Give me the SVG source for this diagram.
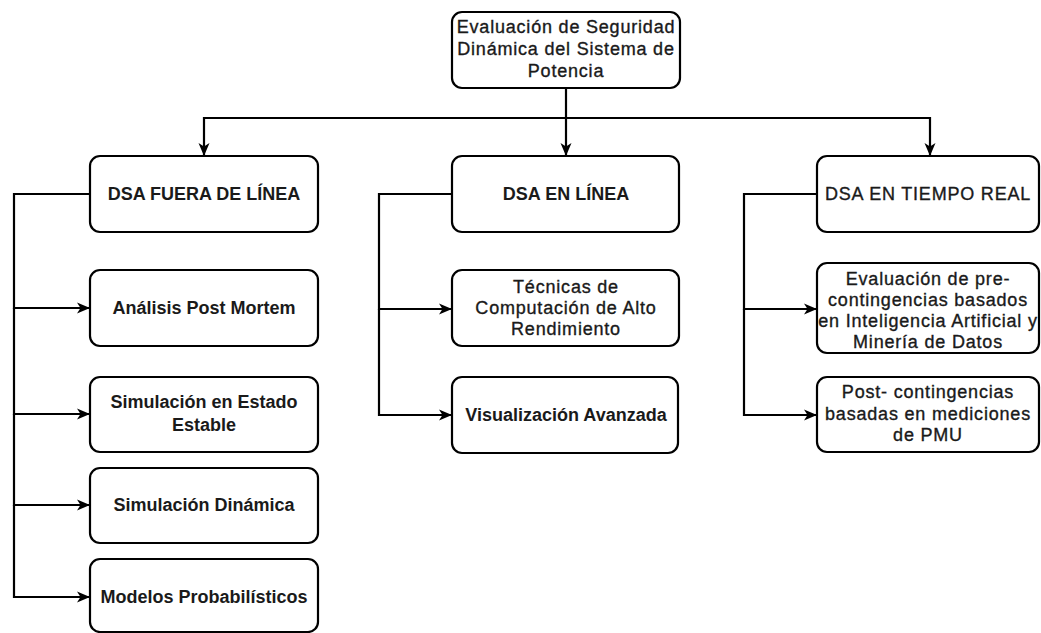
<svg xmlns="http://www.w3.org/2000/svg" width="1041" height="633" viewBox="0 0 1041 633">
<style>
.box{fill:#fff;stroke:#000;stroke-width:2.2}
.t{font-family:"Liberation Sans",Arial,sans-serif;font-size:18px;fill:#1a1a1a;stroke:#1a1a1a;stroke-width:0.35;text-anchor:middle;letter-spacing:0.8px}
.b{font-weight:bold;letter-spacing:0;stroke-width:0}
.c{fill:none;stroke:#000;stroke-width:2.2}
</style>
<defs>
<marker id="ah" markerUnits="userSpaceOnUse" markerWidth="14" markerHeight="12" refX="13" refY="6" orient="auto">
<path d="M0,0.5 L13,6 L0,11.5 L3.5,6 z" fill="#000"/>
</marker>
</defs>
<rect width="1041" height="633" fill="#fff"/>
<g id="connectors">
<path class="c" d="M566,88 V156" marker-end="url(#ah)"/>
<path class="c" d="M566,118 H204 V156" marker-end="url(#ah)"/>
<path class="c" d="M566,118 H930 V156" marker-end="url(#ah)"/>
<path class="c" d="M90,194 H14 V308 H90" marker-end="url(#ah)"/>
<path class="c" d="M14,308 V414 H90" marker-end="url(#ah)"/>
<path class="c" d="M14,414 V505 H90" marker-end="url(#ah)"/>
<path class="c" d="M14,505 V597 H90" marker-end="url(#ah)"/>
<path class="c" d="M452,194 H379 V309 H452" marker-end="url(#ah)"/>
<path class="c" d="M379,309 V415 H452" marker-end="url(#ah)"/>
<path class="c" d="M817,194 H744 V309 H817" marker-end="url(#ah)"/>
<path class="c" d="M744,309 V415 H817" marker-end="url(#ah)"/>
</g>
<g id="root">
<rect class="box" x="452" y="12" width="228" height="76" rx="10"/>
<text class="t" x="566" y="33">Evaluación de Seguridad</text>
<text class="t" x="566" y="55">Dinámica del Sistema de</text>
<text class="t" x="566" y="77">Potencia</text>
</g>
<g id="offline">
<rect class="box" x="90" y="156" width="228" height="76" rx="10"/>
<text class="t b" x="204" y="200">DSA FUERA DE LÍNEA</text>
</g>
<g id="online">
<rect class="box" x="452" y="156" width="227" height="76" rx="10"/>
<text class="t b" x="566" y="200">DSA EN LÍNEA</text>
</g>
<g id="realtime">
<rect class="box" x="817" y="156" width="222" height="76" rx="10"/>
<text class="t" x="928" y="200">DSA EN TIEMPO REAL</text>
</g>
<g id="postmortem">
<rect class="box" x="90" y="270" width="228" height="76" rx="10"/>
<text class="t b" x="204" y="314">Análisis Post Mortem</text>
</g>
<g id="steady">
<rect class="box" x="90" y="377" width="228" height="75" rx="10"/>
<text class="t b" x="204" y="408">Simulación en Estado</text>
<text class="t b" x="204" y="431">Estable</text>
</g>
<g id="dynamic">
<rect class="box" x="90" y="468" width="228" height="75" rx="10"/>
<text class="t b" x="204" y="511">Simulación Dinámica</text>
</g>
<g id="probabilistic">
<rect class="box" x="90" y="559" width="228" height="73" rx="10"/>
<text class="t b" x="204" y="603">Modelos Probabilísticos</text>
</g>
<g id="hpc">
<rect class="box" x="452" y="270" width="227" height="76" rx="10"/>
<text class="t" x="566" y="293">Técnicas de</text>
<text class="t" x="566" y="314">Computación de Alto</text>
<text class="t" x="566" y="335">Rendimiento</text>
</g>
<g id="visual">
<rect class="box" x="452" y="377" width="226" height="76" rx="10"/>
<text class="t b" x="566" y="421">Visualización Avanzada</text>
</g>
<g id="precont">
<rect class="box" x="817" y="263" width="222" height="90" rx="10"/>
<text class="t" x="928" y="285">Evaluación de pre-</text>
<text class="t" x="928" y="306">contingencias basados</text>
<text class="t" x="928" y="327">en Inteligencia Artificial y</text>
<text class="t" x="928" y="348">Minería de Datos</text>
</g>
<g id="postcont">
<rect class="box" x="817" y="377" width="222" height="75" rx="10"/>
<text class="t" x="928" y="398">Post- contingencias</text>
<text class="t" x="928" y="420">basadas en mediciones</text>
<text class="t" x="928" y="441">de PMU</text>
</g>
</svg>
